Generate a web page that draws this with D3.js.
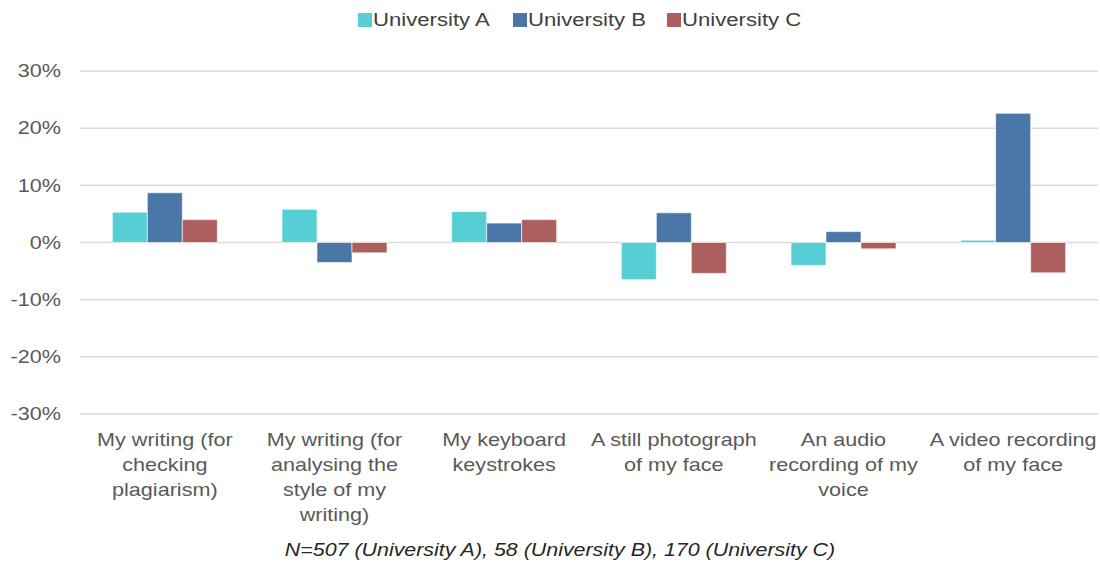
<!DOCTYPE html>
<html>
<head>
<meta charset="utf-8">
<script src="https://cdn.jsdelivr.net/npm/d3@7"></script>
<style>
  body { margin: 0; background: #fff; }
  svg { font-family: "Liberation Sans", Arial, sans-serif; }
</style>
</head>
<body>
<div id="chart"></div>
<script>
const categories = [
  "My writing (for|checking|plagiarism)",
  "My writing (for|analysing the|style of my|writing)",
  "My keyboard|keystrokes",
  "A still photograph|of my face",
  "An audio|recording of my|voice",
  "A video recording|of my face"
];
const seriesNames = ["University A", "University B", "University C"];
const uniA = [5.3, 5.8, 5.4, -6.5, -4.0, 0.4];
const uniB = [8.7, -3.5, 3.4, 5.2, 1.9, 22.6];
const uniC = [4.0, -1.8, 4.0, -5.4, -1.1, -5.3];
const yTicks = [-30, -20, -10, 0, 10, 20, 30];
const footnote = "N=507 (University A), 58 (University B), 170 (University C)";

const colors = ["#56cfd4", "#4a76a8", "#ac5f5d"];
const series = [uniA, uniB, uniC];

const width = 1100, height = 566;
const plotLeft = 80, plotRight = 1098, plotTop = 71, plotBottom = 414;
const stretch = 1.2; // text in the picture is wider than it is tall
const fs = 18;

const svg = d3.select("#chart").append("svg")
  .attr("width", width).attr("height", height);

const x = d3.scaleBand().domain(d3.range(categories.length))
  .range([plotLeft, plotRight]).paddingInner(0).paddingOuter(0);
const inner = d3.scaleBand().domain(d3.range(series.length))
  .range([0, 105]);
const y = d3.scaleLinear().domain([-30, 30]).range([plotBottom, plotTop]);

// gridlines
svg.append("g").selectAll("line").data(yTicks).join("line")
  .attr("x1", plotLeft).attr("x2", plotRight)
  .attr("y1", d => y(d)).attr("y2", d => y(d))
  .attr("stroke", "#d9d9d9").attr("stroke-width", 1.5);

// y tick labels
svg.append("g").selectAll("text").data(yTicks).join("text")
  .attr("transform", d => `translate(61,${y(d)}) scale(${stretch},1)`)
  .attr("dy", "0.35em")
  .attr("text-anchor", "end")
  .attr("font-size", fs).attr("fill", "#595959")
  .text(d => d + "%");

// bars
series.forEach((vals, si) => {
  svg.append("g").selectAll("rect").data(vals).join("rect")
    .attr("x", (d, i) => x(i) + (x.bandwidth() - 105) / 2 + inner(si))
    .attr("width", inner.bandwidth())
    .attr("y", d => y(Math.max(0, d)))
    .attr("height", d => Math.abs(y(d) - y(0)))
    .attr("fill", colors[si])
    .attr("stroke", "#ffffff").attr("stroke-opacity", 0.6).attr("stroke-width", 1);
});

// category labels
const cat = svg.append("g").selectAll("text").data(categories).join("text")
  .attr("transform", (d, i) => `translate(${x(i) + x.bandwidth() / 2},446) scale(${stretch},1)`)
  .attr("text-anchor", "middle")
  .attr("font-size", fs).attr("fill", "#595959");
cat.each(function (d) {
  const t = d3.select(this);
  d.split("|").forEach((line, li) => {
    t.append("tspan").attr("x", 0).attr("dy", li === 0 ? 0 : 25).text(line);
  });
});

// legend
const legendX = [358, 513, 667];
const lg = svg.append("g").selectAll("g").data(seriesNames).join("g")
  .attr("transform", (d, i) => `translate(${legendX[i]},13)`);
lg.append("rect").attr("width", 14).attr("height", 14)
  .attr("fill", (d, i) => colors[i]);
lg.append("text")
  .attr("transform", `translate(15,7) scale(1.23,1)`)
  .attr("dy", "0.35em")
  .attr("font-size", fs).attr("fill", "#404040")
  .text(d => d);

// footnote
svg.append("text")
  .attr("transform", `translate(560,556) scale(1.19,1)`)
  .attr("text-anchor", "middle").attr("font-size", fs)
  .attr("font-style", "italic").attr("fill", "#262626")
  .text(footnote);
</script>
</body>
</html>
